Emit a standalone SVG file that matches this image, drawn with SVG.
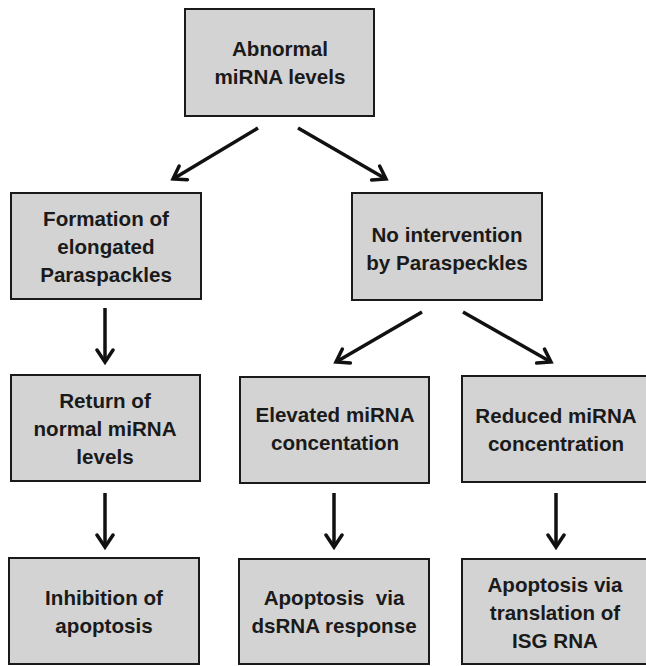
<svg xmlns="http://www.w3.org/2000/svg" width="646" height="666" viewBox="0 0 646 666">
<style>
.box{fill:#d3d3d3;stroke:#1a1a1a;stroke-width:2}
.t{font-family:"Liberation Sans",Arial,sans-serif;font-weight:bold;font-size:20.6px;fill:#1a1a1a;text-anchor:middle}
.ar{stroke:#111;stroke-width:3.5;fill:none;marker-end:url(#ah)}
</style>
<defs>
<marker id="ah" viewBox="0 0 20 20" refX="16" refY="10" markerWidth="20" markerHeight="20" orient="auto" markerUnits="userSpaceOnUse">
<path d="M4,2 L16,10 L4,18" fill="none" stroke="#111" stroke-width="3.5" stroke-linecap="round"/>
</marker>
</defs>
<rect width="646" height="666" fill="#fff"/>
<g id="connectors">
<line class="ar" x1="258" y1="128" x2="173" y2="179"/>
<line class="ar" x1="298" y1="128" x2="386" y2="179"/>
<line class="ar" x1="105" y1="308" x2="105" y2="362"/>
<line class="ar" x1="422" y1="312" x2="336" y2="362"/>
<line class="ar" x1="463" y1="312" x2="551" y2="362"/>
<line class="ar" x1="105" y1="493" x2="105" y2="547"/>
<line class="ar" x1="334" y1="493" x2="334" y2="547"/>
<line class="ar" x1="556" y1="493" x2="556" y2="547"/>
</g>
<g id="n-abnormal">
<rect class="box" x="185" y="9" width="189" height="107"/>
<text class="t" x="280" y="56">Abnormal</text>
<text class="t" x="280" y="84">miRNA levels</text>
</g>
<g id="n-formation">
<rect class="box" x="11" y="193" width="190" height="106"/>
<text class="t" x="106" y="226">Formation of</text>
<text class="t" x="106" y="254">elongated</text>
<text class="t" x="106" y="282">Paraspackles</text>
</g>
<g id="n-nointervention">
<rect class="box" x="352" y="193" width="190" height="107"/>
<text class="t" x="447" y="242">No intervention</text>
<text class="t" x="447" y="270">by Paraspeckles</text>
</g>
<g id="n-return">
<rect class="box" x="11" y="375" width="189" height="106"/>
<text class="t" x="105" y="408">Return of</text>
<text class="t" x="105" y="436">normal miRNA</text>
<text class="t" x="105" y="464">levels</text>
</g>
<g id="n-elevated">
<rect class="box" x="240" y="377" width="189" height="106"/>
<text class="t" x="335" y="422">Elevated miRNA</text>
<text class="t" x="335" y="450">concentation</text>
</g>
<g id="n-reduced">
<rect class="box" x="462" y="376" width="190" height="106"/>
<text class="t" x="556" y="423">Reduced miRNA</text>
<text class="t" x="556" y="451">concentration</text>
</g>
<g id="n-inhibition">
<rect class="box" x="9" y="558" width="190" height="106"/>
<text class="t" x="104" y="605">Inhibition of</text>
<text class="t" x="104" y="633">apoptosis</text>
</g>
<g id="n-dsrna">
<rect class="box" x="239" y="559" width="190" height="105"/>
<text class="t" x="334" y="605" xml:space="preserve">Apoptosis  via</text>
<text class="t" x="334" y="633">dsRNA response</text>
</g>
<g id="n-isg">
<rect class="box" x="462" y="559" width="190" height="105"/>
<text class="t" x="555" y="592">Apoptosis via</text>
<text class="t" x="555" y="620">translation of</text>
<text class="t" x="555" y="648">ISG RNA</text>
</g>
</svg>
